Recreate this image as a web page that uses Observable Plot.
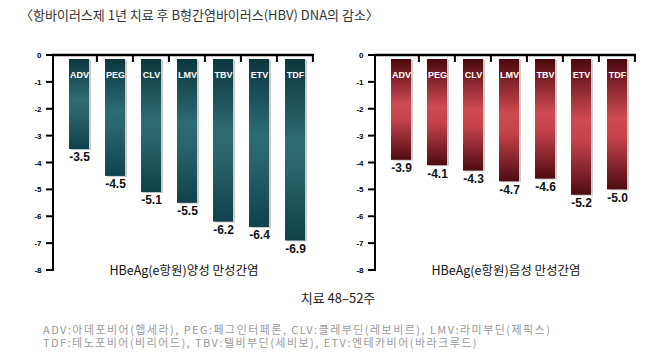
<!DOCTYPE html>
<html>
<head>
<meta charset="utf-8">
<script src="https://cdn.jsdelivr.net/npm/d3@7"></script>
<script src="https://cdn.jsdelivr.net/npm/@observablehq/plot@0.6"></script>
<style>
  html, body { margin: 0; padding: 0; background: #fff; }
  #wrap { position: relative; width: 661px; height: 355px; font-family: "Noto Sans CJK KR", "Noto Sans", sans-serif; }
  #title { position: absolute; left: 20px; top: 5px; font-size: 13px; color: #333; white-space: nowrap; }
  #row { padding-top: 30px; display: flex; }
  #row svg { display: block; }
  #period { position: absolute; left: 0; width: 676px; text-align: center; top: 288px; font-size: 13px; color: #222; white-space: nowrap; }
  #notes { position: absolute; left: 43px; top: 323px; font-size: 11px; line-height: 13px; color: #9a9a9a; white-space: nowrap; letter-spacing: 1.45px; }
</style>
</head>
<body>
<div id="wrap">
  <div id="row"></div>
  <div id="title"></div>
  <div id="period"></div>
  <div id="notes"></div>
</div>
<script>
const titleText = "〈항바이러스제 1년 치료 후 B형간염바이러스(HBV) DNA의 감소〉";
const categories = ["ADV", "PEG", "CLV", "LMV", "TBV", "ETV", "TDF"];
const positiveValues = [-3.5, -4.5, -5.1, -5.5, -6.2, -6.4, -6.9];
const negativeValues = [-3.9, -4.1, -4.3, -4.7, -4.6, -5.2, -5.0];
const yTicks = [0, -1, -2, -3, -4, -5, -6, -7, -8];
const panelLabels = ["HBeAg(e항원)양성 만성간염", "HBeAg(e항원)음성 만성간염"];
const periodText = "치료 48–52주";
const noteLines = [
  "ADV:아데포비어(헵세라), PEG:페그인터페론, CLV:클레부딘(레보비르), LMV:라미부딘(제픽스)",
  "TDF:테노포비어(비리어드), TBV:텔비부딘(세비보), ETV:엔테카비어(바라크루드)"
];

document.getElementById("title").textContent = titleText;
document.getElementById("period").textContent = periodText;
document.getElementById("notes").innerHTML = noteLines.map(s => `<div>${s}</div>`).join("");

const PAD_INNER = 0.45, PAD_OUTER = 0.225;

function gradientMark(id, stops) {
  return () => {
    const defs = d3.create("svg:defs");
    const g = defs.append("linearGradient").attr("id", id).attr("x1", 0).attr("y1", 0).attr("x2", 0).attr("y2", 1);
    stops.forEach(([o, c]) => g.append("stop").attr("offset", o).attr("stop-color", c));
    return defs.node();
  };
}

// Axis lines drawn from Plot's own scales: top line at y=0, left line, band separators, y ticks
function axisLinesMark() {
  return (index, scales, values, dims) => {
    const {x, y} = scales;
    const g = d3.create("svg:g").attr("aria-label", "axis-lines").attr("fill", "#000");
    const left = dims.marginLeft, right = dims.width - dims.marginRight;
    const y0 = y(yTicks[0]), yb = y(yTicks[yTicks.length - 1]);
    const step = x(categories[1]) - x(categories[0]);
    const seps = categories.map(c => x(c) + step * (1 - PAD_INNER / 2));
    const rects = [
      [left - 1, y0 - 1.25, right - left + 1, 2.5],
      [left - 1, y0 - 1, 2, yb - y0 + 2],
      ...seps.map(s => [s - 1, y0, 2, 7]),
      ...yTicks.map(t => [left - 7, y(t) - 1, 7, 2])
    ];
    rects.forEach(([rx, ry, rw, rh]) => g.append("rect")
      .attr("x", rx).attr("y", ry).attr("width", rw).attr("height", rh));
    return g.node();
  };
}

function panel(values, label, gradId, stops, opts) {
  const data = categories.map((k, i) => ({k, v: values[i]}));
  const frameW = 261;
  return Plot.plot({
    width: opts.width,
    height: 255,
    marginLeft: opts.marginLeft,
    marginRight: opts.width - opts.marginLeft - frameW,
    marginTop: 25,
    marginBottom: 15,
    style: {fontFamily: "'Liberation Sans', Arial, sans-serif"},
    x: {domain: categories, insetLeft: 6, paddingInner: PAD_INNER, paddingOuter: PAD_OUTER, axis: null},
    y: {domain: [-8, 0], axis: null},
    marks: [
      gradientMark(gradId, stops),
      axisLinesMark(),
      Plot.barY(data, {x: "k", y: "v", insetTop: 4, dx: 2, dy: 1, fill: "#000", fillOpacity: 0.2}),
      Plot.barY(data, {x: "k", y: "v", insetTop: 4, fill: `url(#${gradId})`}),
      Plot.text(data, {x: "k", y: 0, text: "k", dy: 20, fill: "#fff", fontSize: 9, fontWeight: 600}),
      Plot.text(data, {x: "k", y: "v", text: d => d.v.toFixed(1), dy: 8, fill: "#111", fontSize: 12, fontWeight: "bold"}),
      Plot.text(yTicks, {y: d => d, text: d => String(d), frameAnchor: "left", textAnchor: "end", dx: -12, fontSize: 8, fontWeight: "bold", fill: "#000"}),
      Plot.text([label], {frameAnchor: "bottom", lineAnchor: "top", dy: -4, text: d => d, fontSize: 12.5, fill: "#111", fontFamily: "'Noto Sans CJK KR', sans-serif"})
    ]
  });
}

const row = document.getElementById("row");
row.appendChild(panel(positiveValues, panelLabels[0], "gradPos",
  [[0, "#0c363d"], [0.45, "#2e6b73"], [0.6, "#2a646c"], [1, "#0f424a"]],
  {width: 330, marginLeft: 53}));
row.appendChild(panel(negativeValues, panelLabels[1], "gradNeg",
  [[0, "#4a080e"], [0.45, "#cf4a52"], [0.6, "#c6434b"], [1, "#4e0b12"]],
  {width: 331, marginLeft: 45}));
</script>
</body>
</html>
